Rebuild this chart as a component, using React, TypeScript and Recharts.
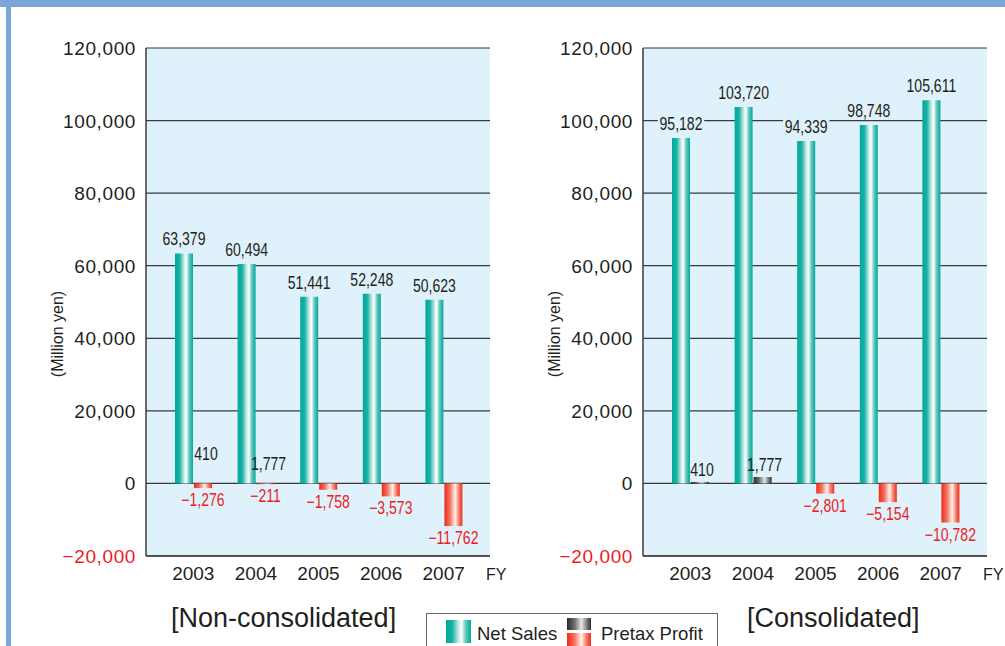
import React from "react";
import {
  BarChart,
  Bar,
  XAxis,
  YAxis,
  CartesianGrid,
  Cell,
} from "recharts";

const years = ["2003", "2004", "2005", "2006", "2007"];
const nonConsSales = [63379, 60494, 51441, 52248, 50623];
const nonConsProfit = [-1276, -211, -1758, -3573, -11762];
// labels printed near the zero line of the non-consolidated chart (as in the source)
const nonConsExtraLabels = ["410", "1,777", "", "", ""];
const consSales = [95182, 103720, 94339, 98748, 105611];
const consProfit = [410, 1777, -2801, -5154, -10782];
const yTicks = [-20000, 0, 20000, 40000, 60000, 80000, 100000, 120000];

const PLOT_BG = "#dff1fa";
const DARK = "#231f20";
const RED = "#ed1c24";
const BLUE = "#7ba6da";
const SANS = "'Liberation Sans', Arial, Helvetica, sans-serif";

const fmt = (v: number) =>
  v < 0 ? "\u2212" + Math.abs(v).toLocaleString("en-US") : v.toLocaleString("en-US");

function Gradients({ id }: { id: string }) {
  return (
    <defs>
      <linearGradient id={`${id}-teal`} x1="0" y1="0" x2="1" y2="0">
        <stop offset="0%" stopColor="#00a99a" />
        <stop offset="25%" stopColor="#19b1a4" />
        <stop offset="50%" stopColor="#c5ebe7" />
        <stop offset="62%" stopColor="#ffffff" />
        <stop offset="80%" stopColor="#5cc6bb" />
        <stop offset="100%" stopColor="#00a99a" />
      </linearGradient>
      <linearGradient id={`${id}-gray`} x1="0" y1="0" x2="1" y2="0">
        <stop offset="0%" stopColor="#2b2b2b" />
        <stop offset="30%" stopColor="#6a6a6a" />
        <stop offset="60%" stopColor="#e6e6e6" />
        <stop offset="80%" stopColor="#8a8a8a" />
        <stop offset="100%" stopColor="#2b2b2b" />
      </linearGradient>
      <linearGradient id={`${id}-red`} x1="0" y1="0" x2="1" y2="0">
        <stop offset="0%" stopColor="#ee2a1e" />
        <stop offset="30%" stopColor="#f36f5c" />
        <stop offset="60%" stopColor="#fff1ea" />
        <stop offset="80%" stopColor="#f5826f" />
        <stop offset="100%" stopColor="#ee2a1e" />
      </linearGradient>
    </defs>
  );
}

// condensed look: regular sans squeezed horizontally
function NarrowText({
  x,
  y,
  fill,
  children,
}: {
  x: number;
  y: number;
  fill: string;
  children: React.ReactNode;
}) {
  return (
    <text
      transform={`translate(${x},${y}) scale(0.78,1)`}
      textAnchor="middle"
      fontSize={18}
      fontFamily={SANS}
      fill={fill}
    >
      {children}
    </text>
  );
}

const YTick = (props: any) => {
  const { x, y, payload } = props;
  return (
    <text
      x={x}
      y={y}
      dy={7}
      textAnchor="end"
      fontSize={19}
      letterSpacing={0.6}
      fontFamily={SANS}
      fill={payload.value < 0 ? RED : DARK}
    >
      {fmt(payload.value)}
    </text>
  );
};

const SalesLabel = (props: any) => {
  const { x, y, width, value } = props;
  const cx = x + width / 2;
  const text = fmt(value);
  const w = text.length * 7.4 + 2;
  return (
    <g>
      <rect x={cx - w / 2} y={y - 23} width={w} height={17} fill={PLOT_BG} />
      <NarrowText x={cx} y={y - 8} fill={DARK}>
        {text}
      </NarrowText>
    </g>
  );
};

function makeProfitLabel(values: number[], extra?: string[]) {
  return (props: any) => {
    const { x, y, width, height, value } = props;
    const cx = x + width / 2;
    const top = Math.min(y, y + height);
    const bottom = Math.max(y, y + height);
    const idx = values.indexOf(value);
    const extraText = extra && idx >= 0 ? extra[idx] : "";
    return (
      <g>
        {value < 0 ? (
          <NarrowText x={cx} y={bottom + 18} fill={RED}>
            {fmt(value)}
          </NarrowText>
        ) : (
          <NarrowText x={cx + 2} y={top - 6} fill={DARK}>
            {fmt(value)}
          </NarrowText>
        )}
        {extraText ? (
          <NarrowText x={cx + 3} y={top - 23 + (idx ? 10 : 0)} fill={DARK}>
            {extraText}
          </NarrowText>
        ) : null}
      </g>
    );
  };
}

function FinChart({
  id,
  sales,
  profit,
  extra,
  left,
}: {
  id: string;
  sales: number[];
  profit: number[];
  extra?: string[];
  left: number;
}) {
  const data = years.map((year, i) => ({ year, sales: sales[i], profit: profit[i] }));
  return (
    <div style={{ position: "absolute", left, top: 0 }}>
      <BarChart
        width={500}
        height={600}
        data={data}
        margin={{ top: 48, right: 10, left: 70, bottom: 14 }}
        barGap={1}
        barSize={18}
      >
        <Gradients id={id} />
        <CartesianGrid
          yAxisId="l"
          vertical={false}
          stroke="#3a3a3a"
          strokeWidth={1.2}
          fill={PLOT_BG}
          fillOpacity={1}
        />
        <XAxis
          dataKey="year"
          padding={{ left: 16, right: 15 }}
          tickLine={false}
          tickSize={0}
          tickMargin={11}
          height={30}
          axisLine={{ stroke: "#3a3a3a", strokeWidth: 1.5 }}
          tick={{ fontSize: 19, fontFamily: SANS, fill: DARK }}
          interval={0}
        />
        <YAxis
          yAxisId="l"
          domain={[-20000, 120000]}
          ticks={yTicks}
          width={76}
          tickLine={false}
          tickSize={0}
          tickMargin={10}
          axisLine={{ stroke: "#3a3a3a", strokeWidth: 1.5 }}
          tick={<YTick />}
          interval={0}
          allowDataOverflow
        />
        <YAxis
          yAxisId="r"
          orientation="right"
          domain={[-20000, 120000]}
          ticks={yTicks}
          width={0}
          tick={false}
          tickLine={false}
          axisLine={{ stroke: "#3a3a3a", strokeWidth: 1.5 }}
        />
        <Bar
          yAxisId="l"
          dataKey="sales"
          fill={`url(#${id}-teal)`}
          isAnimationActive={false}
          label={<SalesLabel />}
        />
        <Bar
          yAxisId="l"
          dataKey="profit"
          isAnimationActive={false}
          label={makeProfitLabel(profit, extra)}
        >
          {data.map((d, i) => (
            <Cell
              key={i}
              fill={d.profit < 0 ? `url(#${id}-red)` : `url(#${id}-gray)`}
            />
          ))}
        </Bar>
      </BarChart>
    </div>
  );
}

export default function App() {
  return (
    <div
      style={{
        position: "absolute",
        left: 0,
        top: 0,
        width: 1005,
        height: 646,
        background: "#ffffff",
        overflow: "hidden",
      }}
    >
      <FinChart
        id="nc"
        sales={nonConsSales}
        profit={nonConsProfit}
        extra={nonConsExtraLabels}
        left={0}
      />
      <FinChart id="co" sales={consSales} profit={consProfit} left={497} />
      <svg
        width={1005}
        height={646}
        style={{ position: "absolute", left: 0, top: 0, pointerEvents: "none" }}
      >
        <Gradients id="lg" />
        <rect x={0} y={0} width={1005} height={7} fill={BLUE} />
        <rect x={6} y={0} width={5} height={646} fill={BLUE} />
        <text
          transform="translate(63,334) rotate(-90)"
          textAnchor="middle"
          fontSize={16}
          fontFamily={SANS}
          fill={DARK}
        >
          (Million yen)
        </text>
        <text
          transform="translate(560,334) rotate(-90)"
          textAnchor="middle"
          fontSize={16}
          fontFamily={SANS}
          fill={DARK}
        >
          (Million yen)
        </text>
        <text x={486} y={580} fontSize={16} fontFamily={SANS} fill={DARK}>
          FY
        </text>
        <text x={983} y={580} fontSize={16} fontFamily={SANS} fill={DARK}>
          FY
        </text>
        <text x={171} y={627} fontSize={27} fontFamily={SANS} fill={DARK}>
          [Non-consolidated]
        </text>
        <text x={747} y={627} fontSize={27} fontFamily={SANS} fill={DARK}>
          [Consolidated]
        </text>
        <rect
          x={426.5}
          y={613.5}
          width={291}
          height={40}
          fill="#ffffff"
          stroke="#6a6a6a"
          strokeWidth={1}
        />
        <rect x={446} y={620} width={25} height={23} fill="url(#lg-teal)" />
        <text x={477} y={640} fontSize={18.5} fontFamily={SANS} fill={DARK}>
          Net Sales
        </text>
        <rect x={567} y={618} width={24} height={12} fill="url(#lg-gray)" />
        <rect x={567} y={633} width={24} height={13} fill="url(#lg-red)" />
        <text x={601} y={640} fontSize={18.5} fontFamily={SANS} fill={DARK}>
          Pretax Profit
        </text>
      </svg>
    </div>
  );
}
